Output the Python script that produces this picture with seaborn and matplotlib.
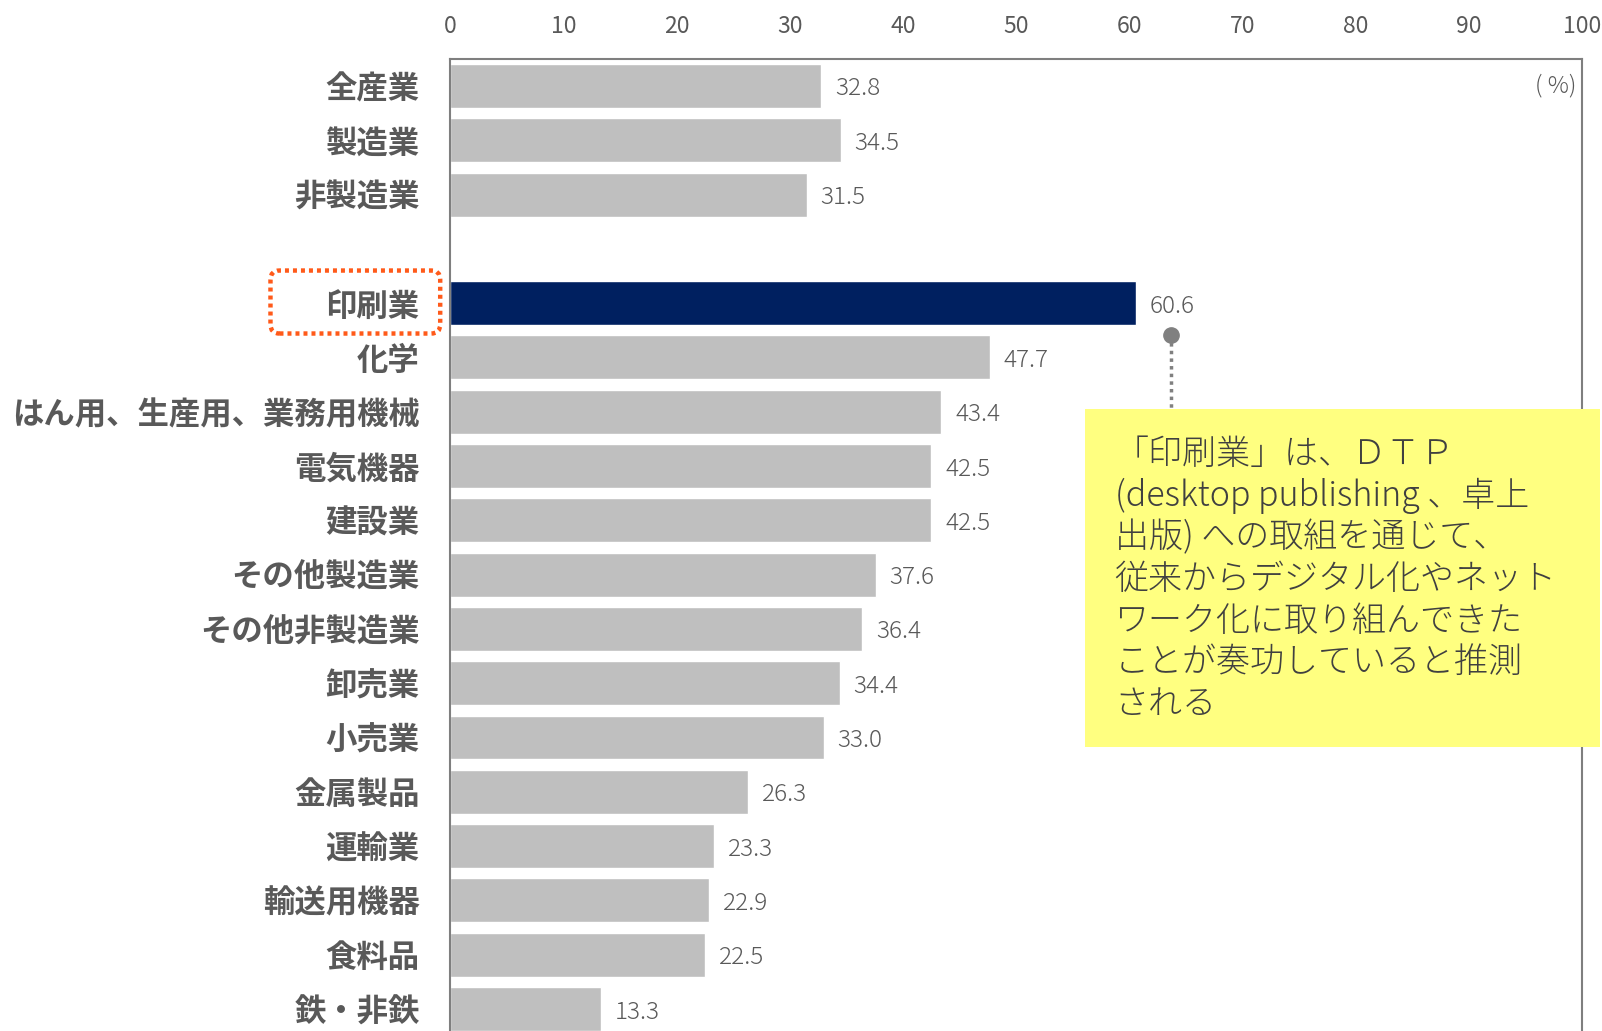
import matplotlib
matplotlib.use("Agg")
import matplotlib.pyplot as plt
from matplotlib.patches import Rectangle, FancyBboxPatch
from matplotlib.transforms import IdentityTransform
import seaborn as sns
import pandas as pd

# Industry categories (top to bottom) and their shares (%)
categories = ["全産業", "製造業", "非製造業",
              "印刷業", "化学", "はん用、生産用、業務用機械", "電気機器", "建設業",
              "その他製造業", "その他非製造業", "卸売業", "小売業", "金属製品",
              "運輸業", "輸送用機器", "食料品", "鉄・非鉄"]
values = [32.8, 34.5, 31.5,
          60.6, 47.7, 43.4, 42.5, 42.5,
          37.6, 36.4, 34.4, 33.0, 26.3,
          23.3, 22.9, 22.5, 13.3]
# a blank slot separates the aggregate rows from the individual industries
row_order = categories[:3] + [" "] + categories[3:]
highlight = "印刷業"
x_ticks = list(range(0, 101, 10))

note = ("「印刷業」は、ＤＴＰ\n"
        "(desktop publishing 、卓上\n"
        "出版) への取組を通じて、\n"
        "従来からデジタル化やネット\n"
        "ワーク化に取り組んできた\n"
        "ことが奏功していると推測\n"
        "される")

GRAY_BAR = "#BFBFBF"
NAVY = "#002060"
TEXT = "#595959"

sns.set_theme(style="white")
plt.rcParams["font.family"] = ["Noto Sans CJK JP", "DejaVu Sans"]

df = pd.DataFrame({"industry": categories, "value": values})
palette = {c: (NAVY if c == highlight else GRAY_BAR) for c in categories}

fig = plt.figure(figsize=(16.02, 10.31), dpi=100)
ax = fig.add_axes([0.281, -0.005, 0.7065, 0.948])

sns.barplot(data=df, y="industry", x="value", order=row_order,
            hue="industry", palette=palette, legend=False,
            width=0.81, saturation=1, ax=ax)

for cont in ax.containers:
    for t in ax.bar_label(cont, fmt="%.1f", padding=10, fontsize=17.5,
                          color=TEXT, fontweight="light"):
        t.set_va("center_baseline")

ax.set_xlim(0, 100)
ax.set_ylim(len(row_order) - 0.5, -0.5)
ax.set_xticks(x_ticks)
ax.xaxis.tick_top()
ax.tick_params(axis="x", length=0, pad=15, labelsize=16.5, labelcolor=TEXT)
ax.tick_params(axis="y", length=0, pad=22, labelsize=22.6, labelcolor=TEXT)
for lbl in ax.get_yticklabels():
    lbl.set_fontweight("bold")
ax.set_xlabel("")
ax.set_ylabel("")
for side in ["top", "bottom", "left", "right"]:
    ax.spines[side].set_visible(True)
    ax.spines[side].set_color("#7F7F7F")
    ax.spines[side].set_linewidth(1.5)

ax.text(0.995, 0, "( %)", transform=ax.get_yaxis_transform(),
        ha="right", va="center", fontsize=17, color=TEXT, fontweight="light")

# callout box for the printing industry
hi = row_order.index(highlight)
box_left, box_right = 56.1, 101.6
box_top, box_bottom = hi + 1.95, hi + 8.17
ax.add_patch(Rectangle((box_left, box_top), box_right - box_left,
                       box_bottom - box_top, facecolor="#FFFF80",
                       edgecolor="none", clip_on=False, zorder=5))
ax.text(58.7, hi + 2.45, note, ha="left", va="top", fontsize=24.5,
        color="#404040", linespacing=1.2, zorder=6, clip_on=False,
        fontweight="light")

# leader from the highlighted value down to the callout
lead_x = values[categories.index(highlight)] + 3.1
ax.plot([lead_x, lead_x], [hi + 0.58, box_top], linestyle=(0, (1, 1.2)),
        color="#808080", linewidth=2.5, zorder=4, clip_on=False)
ax.plot([lead_x], [hi + 0.58], marker="o", markersize=11,
        color="#808080", zorder=4, clip_on=False)

# dotted frame around the highlighted category label
fig.canvas.draw()
lab = [t for t in ax.get_yticklabels() if t.get_text() == highlight][0]
bb = lab.get_window_extent()
y_lo = ax.transData.transform((0, hi + 0.56))[1]
y_hi = ax.transData.transform((0, hi - 0.6))[1]
x_hi = ax.transAxes.transform((-0.0088, 0))[0]
x_lo = bb.x0 - 55
frame = FancyBboxPatch((x_lo, y_lo), x_hi - x_lo, y_hi - y_lo,
                       boxstyle="round,pad=0,rounding_size=9",
                       transform=IdentityTransform(), fill=False,
                       edgecolor="#FF5A1A", linewidth=3.2,
                       linestyle=(0, (0.9, 0.9)))
fig.patches.append(frame)

fig.savefig("out.png", dpi=100)
